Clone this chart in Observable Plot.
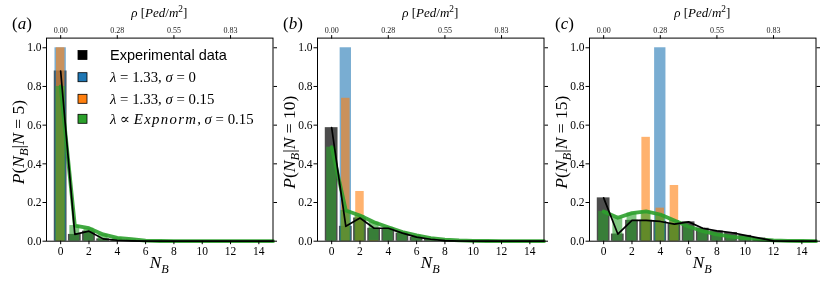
<!DOCTYPE html>
<html><head><meta charset="utf-8">
<script src="https://cdn.jsdelivr.net/npm/d3@7"></script>
<script src="https://cdn.jsdelivr.net/npm/@observablehq/plot@0.6"></script>
<style>
body{margin:0;background:#fff;}
#chart{position:relative;width:822px;height:282px;overflow:hidden;background:#fff;}
#chart svg{position:absolute;top:0;will-change:transform;}
</style></head><body><div id="chart"></div>
<script>
// ---- data ----
const NB = [0,1,2,3,4,5,6,7,8,9,10,11,12,13,14,15];
const xTicks = [0,2,4,6,8,10,12,14];
const yTicks = [0,0.2,0.4,0.6,0.8,1.0];
const rhoTicks = [0,4,8,12];
const rhoLabels = ["0.00","0.28","0.55","0.83"];
const panelLetters = ["a","b","c"];
const panelN = ["5","10","15"];

// N = 5
const expA    = [0.88,0.035,0.052,0.012,0.005,0.002,0,0,0,0,0,0,0,0,0,0];
const blueA   = [1.0,0,0,0,0,0,0,0,0,0,0,0,0,0,0,0];
const orangeA = [1.0,0,0,0,0,0,0,0,0,0,0,0,0,0,0,0];
const greenA  = [0.80,0.081,0.067,0.035,0.017,0.010,0.003,0.001,0,0,0,0,0,0,0,0];
// N = 10
const expB    = [0.587,0.077,0.12,0.067,0.067,0.042,0.021,0.01,0.003,0.001,0,0,0,0,0,0];
const blueB   = [0,1.0,0,0,0,0,0,0,0,0,0,0,0,0,0,0];
const orangeB = [0,0.739,0.257,0.004,0,0,0,0,0,0,0,0,0,0,0,0];
const greenB  = [0.486,0.159,0.133,0.098,0.072,0.047,0.03,0.016,0.008,0.004,0.002,0.001,0,0,0,0];
// N = 15
const expC    = [0.224,0.037,0.108,0.108,0.102,0.088,0.10,0.067,0.053,0.045,0.03,0.016,0.002,0,0,0];
const blueC   = [0,0,0,0,1.0,0,0,0,0,0,0,0,0,0,0,0];
const orangeC = [0,0,0,0.537,0.171,0.288,0,0,0,0,0,0,0,0,0,0];
const greenC  = [0.154,0.121,0.145,0.154,0.138,0.107,0.076,0.052,0.035,0.024,0.016,0.009,0.004,0.002,0.001,0];

const legendColors = ["#000000","#1f77b4","#ff7f0e","#2ca02c"];
const legendParts = [
  [["Experimental data","s"]],
  [["λ","i"],["\u00a0=\u00a01.33,\u00a0","r"],["σ","i"],["\u00a0=\u00a00","r"]],
  [["λ","i"],["\u00a0=\u00a01.33,\u00a0","r"],["σ","i"],["\u00a0=\u00a00.15","r"]],
  [["λ","i"],["\u00a0∝\u00a0","r"],["Expnorm","iw"],[",\u00a0","r"],["σ","i"],["\u00a0=\u00a00.15","r"]]
];

// ---- helpers ----
const SERIF = "'Liberation Serif', 'DejaVu Serif', serif";
const SANS = "'Liberation Sans', Arial, sans-serif";
function rich(textSel, parts, size) {
  let shift = 0;
  for (const [t, st] of parts) {
    const sp = textSel.append("tspan").text(t);
    let target = 0, fs = size;
    if (st.includes("_")) { target = size * 0.28; fs = size * 0.72; }
    if (st.includes("^")) { target = -size * 0.4; fs = size * 0.72; }
    sp.attr("dy", target - shift).attr("font-size", fs)
      .attr("font-style", st.includes("i") ? "italic" : "normal");
    if (st.includes("s")) sp.attr("font-family", SANS);
    if (st.includes("w")) sp.attr("letter-spacing", 1.3);
    shift = target;
  }
}

const chart = document.getElementById("chart");
const W = 279, ML = 46, MR = 6.5, MT = 37.6, MB = 41.3, H = 282;
const offsets = [0, 271.2, 542.7];

function panel(p, exp, blue, orange, green) {
  const rows = NB.map((n, k) => ({n, exp: exp[k], blue: blue[k], orange: orange[k], green: green[k]}));
  const bar = (key, w, fill, op) => Plot.rectY(rows.filter(d => d[key] > 0), {
    x1: d => d.n - w / 2, x2: d => d.n + w / 2, y1: d => 0, y2: key, fill, fillOpacity: op
  });
  const svg = Plot.plot({
    width: W, height: H, marginLeft: ML, marginRight: MR, marginTop: MT, marginBottom: MB,
    x: {domain: [-1, 15], axis: null},
    y: {domain: [0, 1.05], axis: null},
    style: {background: "transparent", fontFamily: SERIF, fontSize: "11.5px", overflow: "visible", color: "#000"},
    marks: [
      bar("exp", 0.9, "#000000", 0.7),
      bar("blue", 0.8, "#1f77b4", 0.6),
      bar("orange", 0.6, "#ff7f0e", 0.6),
      bar("green", 0.7, "#2ca02c", 0.6),
      Plot.line(rows, {x: "n", y: "green", stroke: "#2ca02c", strokeWidth: 3.8, strokeOpacity: 0.9}),
      Plot.line(rows, {x: "n", y: "exp", stroke: "#000", strokeWidth: 1.7}),
      Plot.frame({stroke: "#000", strokeWidth: 1}),
      Plot.axisX({ticks: xTicks, tickSize: 3.5, tickPadding: 2, label: null, fontSize: 11.5}),
      Plot.axisX({anchor: "top", ticks: rhoTicks, tickFormat: d => rhoLabels[rhoTicks.indexOf(d)],
                  tickSize: 3.5, tickPadding: 2, label: null, fontSize: 8, fill: "#222"}),
      Plot.axisY({ticks: yTicks, tickFormat: d3.format(".1f"), tickSize: 3.5, tickPadding: 1.5, label: null, fontSize: 11.5}),
      Plot.axisY({anchor: "right", ticks: yTicks, tickFormat: () => "", tickSize: 3.5, label: null})
    ]
  });
  svg.style.left = offsets[p] + "px";
  svg.style.position = "absolute";
  chart.appendChild(svg);
  const s = d3.select(svg);
  const cx = ML + (W - ML - MR) / 2;
  // panel letter
  const t0 = s.append("text").attr("x", 12).attr("y", 29).attr("text-anchor", "start")
    .attr("font-family", SERIF).attr("font-size", 17);
  rich(t0, [["(", "r"], [panelLetters[p], "i"], [")", "r"]], 17);
  // top label
  const t1 = s.append("text").attr("x", cx).attr("y", 17).attr("text-anchor", "middle").attr("font-family", SERIF).attr("font-size", 13);
  rich(t1, [["ρ", "i"], ["\u00a0[", "r"], ["Ped", "i"], ["/", "r"], ["m", "i"], ["2", "^r"], ["]", "r"]], 13);
  // x label
  const t2 = s.append("text").attr("x", cx).attr("y", 268).attr("text-anchor", "middle").attr("font-family", SERIF).attr("font-size", 17);
  rich(t2, [["N", "i"], ["B", "_i"]], 17);
  // y label
  const t3 = s.append("text").attr("transform", `translate(23.5,${(MT + H - MB) / 2 + 3}) rotate(-90)`)
    .attr("text-anchor", "middle").attr("font-family", SERIF).attr("font-size", 17.5);
  rich(t3, [["P", "i"], ["(", "r"], ["N", "i"], ["B", "_i"], ["|", "r"], ["N", "i"], ["\u00a0=\u00a0" + panelN[p] + ")", "r"]], 17.5);
  return s;
}

const sa = panel(0, expA, blueA, orangeA, greenA);
panel(1, expB, blueB, orangeB, greenB);
panel(2, expC, blueC, orangeC, greenC);

// legend in panel (a)
const legY = [55, 77.2, 98.8, 118.8];
legendParts.forEach((parts, k) => {
  sa.append("rect").attr("x", 78).attr("y", legY[k] - 4.5).attr("width", 9).attr("height", 9)
    .attr("fill", legendColors[k]).attr("stroke", "#000").attr("stroke-width", 0.8);
  const fs = k === 0 ? 14.5 : 14.8;
  const t = sa.append("text").attr("x", 110).attr("y", legY[k] + 5).attr("text-anchor", "start")
    .attr("font-family", SERIF).attr("font-size", fs);
  rich(t, parts, fs);
});
</script></body></html>
